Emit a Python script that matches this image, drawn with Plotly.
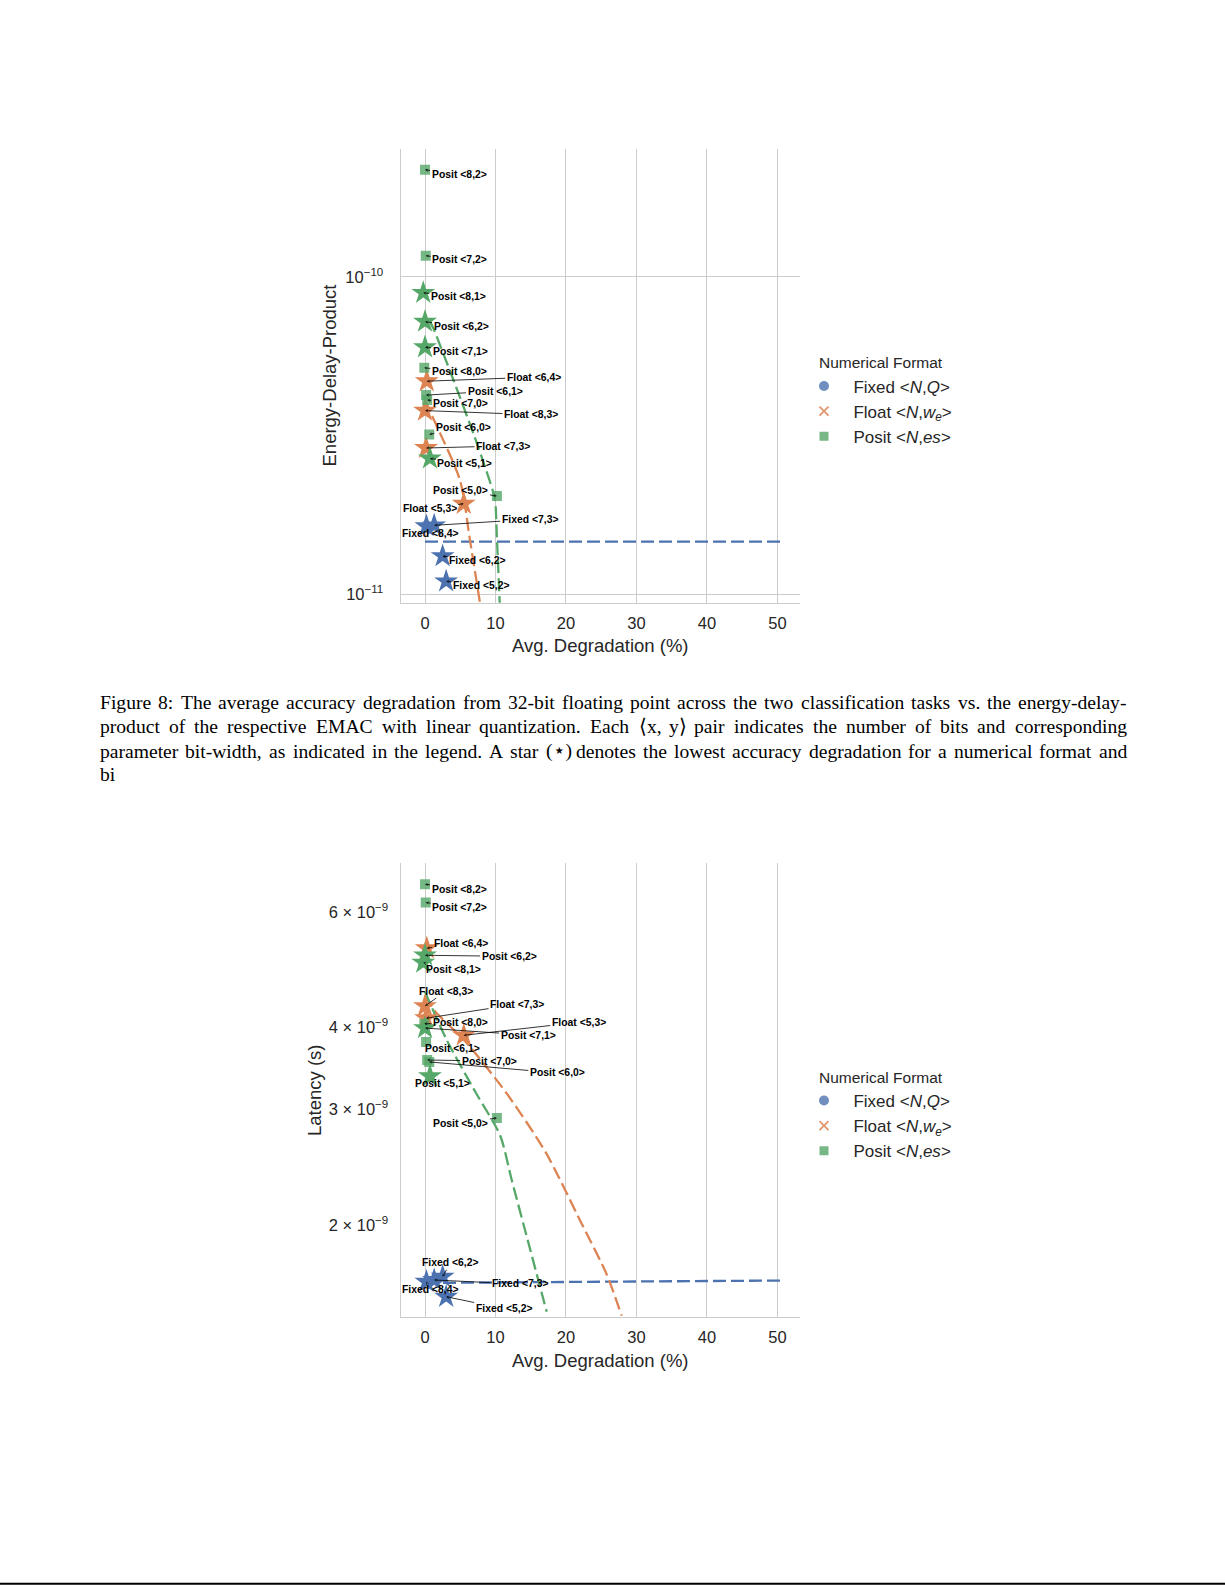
import math
import plotly.graph_objects as go

W, H = 1225, 1585

# ---------------- data ----------------
fixed_cfg = ["8,4", "7,3", "6,2", "5,2"]
fixed_deg = [0.2, 1.3, 2.5, 3.0]
fixed_edp = [1.64e-11, 1.65e-11, 1.32e-11, 1.10e-11]
fixed_lat = [1.639e-9, 1.649e-9, 1.668e-9, 1.555e-9]
fixed_best = [True, True, True, True]

float_cfg = ["6,4", "8,3", "7,3", "5,3"]
float_deg = [0.25, 0.0, 0.15, 5.5]
float_edp = [4.69e-11, 3.79e-11, 2.89e-11, 1.93e-11]
float_lat = [5.28e-9, 4.31e-9, 4.13e-9, 3.89e-9]
float_best = [True, True, True, True]

posit_cfg = ["8,2", "7,2", "8,1", "6,2", "7,1", "8,0", "6,1", "7,0", "6,0", "5,1", "5,0"]
posit_deg = [0.0, 0.1, -0.25, 0.0, 0.0, -0.1, 0.15, 0.3, 0.6, 0.7, 10.2]
posit_edp = [2.17e-10, 1.164e-10, 8.9e-11, 7.22e-11, 6.0e-11, 5.17e-11,
             4.24e-11, 4.09e-11, 3.19e-11, 2.68e-11, 2.04e-11]
posit_lat = [6.61e-9, 6.20e-9, 5.02e-9, 5.15e-9, 3.99e-9, 4.05e-9,
             3.80e-9, 3.567e-9, 3.543e-9, 3.37e-9, 2.91e-9]
posit_best = [False, False, True, True, True, False, False, False, False, True, False]

# fitted trend curves
fixed_fit_edp_x = [0.0, 50.8]
fixed_fit_edp_y = [1.466e-11, 1.466e-11]
float_fit_edp_x = [0.0, 0.95, 4.96, 6.38, 7.8]
float_fit_edp_y = [4.1e-11, 3.67e-11, 2.29e-11, 1.48e-11, 9.4e-12]
posit_fit_edp_x = [0.6, 1.18, 4.0, 7.0, 8.7, 9.9, 10.2, 10.6]
posit_fit_edp_y = [7.3e-11, 6.88e-11, 4.75e-11, 3.15e-11, 2.45e-11, 2.0e-11, 1.5e-11, 9.4e-12]

fixed_fit_lat_x = [0.0, 50.8]
fixed_fit_lat_y = [1.632e-9, 1.646e-9]
float_fit_lat_x = [0.0, 1.36, 5.66, 11.4, 17.13, 22.16, 25.73, 27.9]
float_fit_lat_y = [4.48e-9, 4.24e-9, 3.813e-9, 3.193e-9, 2.58e-9, 2.015e-9, 1.686e-9, 1.455e-9]
posit_fit_lat_x = [0.0, 3.08, 7.23, 10.64, 12.3, 14.75, 17.26]
posit_fit_lat_y = [4.53e-9, 3.826e-9, 3.177e-9, 2.742e-9, 2.342e-9, 1.865e-9, 1.475e-9]

x_ticks = [0, 10, 20, 30, 40, 50]
edp_ticks = [1e-11, 1e-10]
edp_ticktext = ["10<sup>\u221211</sup>", "10<sup>\u221210</sup>"]
lat_ticks = [2e-9, 3e-9, 4e-9, 6e-9]
lat_ticktext = ["2 \u00d7 10<sup>\u22129</sup>", "3 \u00d7 10<sup>\u22129</sup>",
                "4 \u00d7 10<sup>\u22129</sup>", "6 \u00d7 10<sup>\u22129</sup>"]

caption_lines = [
    "Figure 8: The average accuracy degradation from 32-bit floating point across the two classification tasks vs. the energy-delay-",
    "product of the respective EMAC with linear quantization. Each \u27e8x, y\u27e9 pair indicates the number of bits and corresponding",
    "parameter bit-width, as indicated in the legend. A star (\u22c6) denotes the lowest accuracy degradation for a numerical format and",
    "bi",
]

# ---------------- styling / layout helpers ----------------
def pxx(x):
    return x / W

def pxy(y):
    return 1 - y / H

BLUE, ORANGE, GREEN = "#4c72b0", "#dd8452", "#55a868"
BLUE_A, ORANGE_A, GREEN_A = "rgba(76,114,176,0.8)", "rgba(221,132,82,0.85)", "rgba(85,168,104,0.8)"
GRID = "#cccccc"
TXT = "#262626"
SANS = "Liberation Sans"
SERIF = "Liberation Serif"
CAP_SIZE = 19.6

# approximate Times glyph advance widths (1/1000 em) for justifying the caption
_TW = {" ": 250, "!": 333, "(": 333, ")": 333, ",": 250, "-": 333, ".": 250, ":": 278,
       "\u27e8": 333, "\u27e9": 333, "\u22c6": 500}
for _c in "0123456789":
    _TW[_c] = 500
_TW.update(dict(zip("ABCDEFGHIJKLMNOPQRSTUVWXYZ",
                    [722, 667, 667, 722, 611, 556, 722, 722, 333, 389, 722, 611, 889,
                     722, 722, 556, 722, 667, 556, 611, 722, 722, 944, 722, 722, 611])))
_TW.update(dict(zip("abcdefghijklmnopqrstuvwxyz",
                    [444, 500, 444, 500, 444, 333, 500, 500, 278, 278, 500, 278, 778,
                     500, 500, 500, 500, 333, 389, 278, 500, 500, 722, 500, 500, 444])))

def word_w(w, size):
    return sum(_TW.get(c, 500) for c in w) * size / 1000.0

# label offsets (pixels, text centre relative to point)
top_off = {
    ("Posit", "8,2"): (34, 5), ("Posit", "7,2"): (34, 4), ("Posit", "8,1"): (35, 4),
    ("Posit", "6,2"): (36, 5), ("Posit", "7,1"): (35, 4), ("Posit", "8,0"): (35, 4),
    ("Float", "6,4"): (107, -4), ("Posit", "6,1"): (69, -4), ("Posit", "7,0"): (33, 3),
    ("Float", "8,3"): (106, 4), ("Posit", "6,0"): (34, -7), ("Float", "7,3"): (77, -2),
    ("Posit", "5,1"): (35, 5), ("Posit", "5,0"): (-36, -6), ("Float", "5,3"): (-34, 5),
    ("Fixed", "7,3"): (96, -6), ("Fixed", "8,4"): (4, 7), ("Fixed", "6,2"): (35, 4),
    ("Fixed", "5,2"): (35, 4),
}
bot_off = {
    ("Posit", "8,2"): (34, 5), ("Posit", "7,2"): (34, 5), ("Float", "6,4"): (34, -5),
    ("Posit", "6,2"): (84, 1), ("Posit", "8,1"): (30, 7), ("Float", "8,3"): (21, -15),
    ("Float", "7,3"): (91, -14), ("Posit", "8,0"): (36, -1), ("Float", "5,3"): (115, -13),
    ("Posit", "7,1"): (103, 7), ("Posit", "6,1"): (26, 7), ("Posit", "7,0"): (62, 1),
    ("Posit", "6,0"): (128, 11), ("Posit", "5,1"): (13, 7), ("Posit", "5,0"): (-36, 5),
    ("Fixed", "6,2"): (8, -14), ("Fixed", "7,3"): (86, 4), ("Fixed", "8,4"): (4, 8),
    ("Fixed", "5,2"): (58, 12),
}

PAD = "&nbsp;&nbsp;"
formats = [
    ("Fixed", fixed_cfg, fixed_deg, fixed_edp, fixed_lat, fixed_best, BLUE, BLUE_A, "circle",
     (fixed_fit_edp_x, fixed_fit_edp_y), (fixed_fit_lat_x, fixed_fit_lat_y),
     PAD + "Fixed &lt;<i>N</i>,<i>Q</i>&gt;"),
    ("Float", float_cfg, float_deg, float_edp, float_lat, float_best, ORANGE, ORANGE_A, "x-thin",
     (float_fit_edp_x, float_fit_edp_y), (float_fit_lat_x, float_fit_lat_y),
     PAD + "Float &lt;<i>N</i>,<i>w</i><sub><i>e</i></sub>&gt;"),
    ("Posit", posit_cfg, posit_deg, posit_edp, posit_lat, posit_best, GREEN, GREEN_A, "square",
     (posit_fit_edp_x, posit_fit_edp_y), (posit_fit_lat_x, posit_fit_lat_y),
     PAD + "Posit &lt;<i>N</i>,<i>es</i>&gt;"),
]

fig = go.Figure()
annotations = []

charts = [("x", "y", "legend", top_off), ("x2", "y2", "legend2", bot_off)]

for xa, ya, leg, offs in charts:
    # trend lines first
    for name, cfg, deg, edp, lat, best, col, cola, sym, fe, fl, lname in formats:
        fx, fy = fe if ya == "y" else fl
        fig.add_trace(go.Scatter(x=fx, y=fy, mode="lines", xaxis=xa, yaxis=ya,
                                 line=dict(color=col, width=2.3, dash="13px,5px",
                                           shape="spline", smoothing=0.7),
                                 showlegend=False, hoverinfo="skip"))
    for name, cfg, deg, edp, lat, best, col, cola, sym, fe, fl, lname in formats:
        vals = edp if ya == "y" else lat
        nx = [d for d, b in zip(deg, best) if not b]
        ny = [v for v, b in zip(vals, best) if not b]
        sx = [d for d, b in zip(deg, best) if b]
        sy = [v for v, b in zip(vals, best) if b]
        if nx:
            fig.add_trace(go.Scatter(x=nx, y=ny, mode="markers", xaxis=xa, yaxis=ya,
                                     marker=dict(symbol=sym, size=10, color=cola,
                                                 line=dict(width=0)),
                                     showlegend=False))
        fig.add_trace(go.Scatter(x=sx, y=sy, mode="markers", xaxis=xa, yaxis=ya,
                                 marker=dict(symbol="star", size=18, color=col,
                                             line=dict(width=0)),
                                 showlegend=False))
        # legend-only entry
        fig.add_trace(go.Scatter(x=[None], y=[None], mode="markers", xaxis=xa, yaxis=ya,
                                 marker=dict(symbol=sym, size=10 if sym == "circle" else 9,
                                             color=cola,
                                             line=dict(width=1.8 if sym == "x-thin" else 0,
                                                       color=cola)),
                                 name=lname, legend=leg, showlegend=True))
        for c, d, v in zip(cfg, deg, vals):
            ax, ay = offs[(name, c)]
            annotations.append(dict(
                x=d, y=math.log10(v), xref=xa, yref=ya,
                text=f"<b>{name} &lt;{c}&gt;</b>",
                showarrow=True, ax=ax, ay=ay, arrowhead=5, arrowsize=0.6,
                arrowwidth=0.8, arrowcolor="black", standoff=0,
                font=dict(family=SANS, size=10.4, color="black")))

# axis titles
for txt, x, y, ang in [
    ("Avg. Degradation (%)", 600, 645, 0),
    ("Energy-Delay-Product", 328.5, 376, -90),
    ("Avg. Degradation (%)", 600, 1360.5, 0),
    ("Latency (s)", 314, 1090, -90),
]:
    annotations.append(dict(x=pxx(x), y=pxy(y), xref="paper", yref="paper",
                            text=txt, showarrow=False, textangle=ang,
                            xanchor="center", yanchor="middle",
                            font=dict(family=SANS, size=18.5, color=TXT)))

# legend titles
for yc in [362, 1077.5]:
    annotations.append(dict(x=pxx(816.5), y=pxy(yc), xref="paper", yref="paper",
                            text="Numerical Format", showarrow=False,
                            xanchor="left", yanchor="middle",
                            font=dict(family=SANS, size=15.5, color=TXT)))

# caption, justified word by word between the page margins
CAP_L, CAP_R = 98.0, 1125.0
for i, (line, yc) in enumerate(zip(caption_lines, [702.5, 726.7, 751, 774.5])):
    words = line.split(" ")
    widths = [word_w(w, CAP_SIZE) for w in words]
    if i < len(caption_lines) - 1 and len(words) > 1:
        gap = (CAP_R - CAP_L - sum(widths)) / (len(words) - 1)
    else:
        gap = word_w(" ", CAP_SIZE)
    xcur = CAP_L
    for w, ww in zip(words, widths):
        annotations.append(dict(x=pxx(xcur), y=pxy(yc), xref="paper", yref="paper",
                                text=w, showarrow=False, xanchor="left", yanchor="middle",
                                font=dict(family=SERIF, size=CAP_SIZE, color="black")))
        xcur += ww + gap

xdom = [pxx(400.7), pxx(800)]
axis_common = dict(showgrid=True, gridcolor=GRID, gridwidth=1.3, showline=True,
                   linecolor=GRID, linewidth=1.3, ticks="", zeroline=False,
                   tickfont=dict(family=SANS, size=16.5, color=TXT))

leg_common = dict(xanchor="left", yanchor="top", bgcolor="rgba(0,0,0,0)",
                  font=dict(family=SANS, size=17, color=TXT))

fig.update_layout(
    width=W, height=H, margin=dict(l=0, r=0, t=0, b=0),
    paper_bgcolor="white", plot_bgcolor="white",
    font=dict(family=SANS, color=TXT),
    xaxis=dict(domain=xdom, range=[-3.45, 53.2], tickvals=x_ticks, anchor="y",
               ticklabelstandoff=5, **axis_common),
    yaxis=dict(domain=[pxy(602.7), pxy(149)], type="log", range=[-11.026, -9.598],
               tickvals=edp_ticks, ticktext=edp_ticktext, anchor="x",
               ticklabelstandoff=13, **axis_common),
    xaxis2=dict(domain=xdom, range=[-3.45, 53.2], tickvals=x_ticks, anchor="y2",
                ticklabelstandoff=5, **axis_common),
    yaxis2=dict(domain=[pxy(1316.7), pxy(863)], type="log", range=[-8.8387, -8.1476],
                tickvals=lat_ticks, ticktext=lat_ticktext, anchor="x2",
                ticklabelstandoff=8, **{**axis_common, "showgrid": False}),
    legend=dict(x=pxx(804), y=pxy(368.5), **leg_common),
    legend2=dict(x=pxx(804), y=pxy(1083), **leg_common),
    annotations=annotations,
    shapes=[dict(type="line", xref="paper", yref="paper", x0=0, x1=1,
                 y0=pxy(1583.8), y1=pxy(1583.8), line=dict(color="black", width=2))],
)

fig.write_html("out.html", config={"displayModeBar": False},
               post_script="document.body.style.margin='0';document.body.style.overflow='hidden';")
